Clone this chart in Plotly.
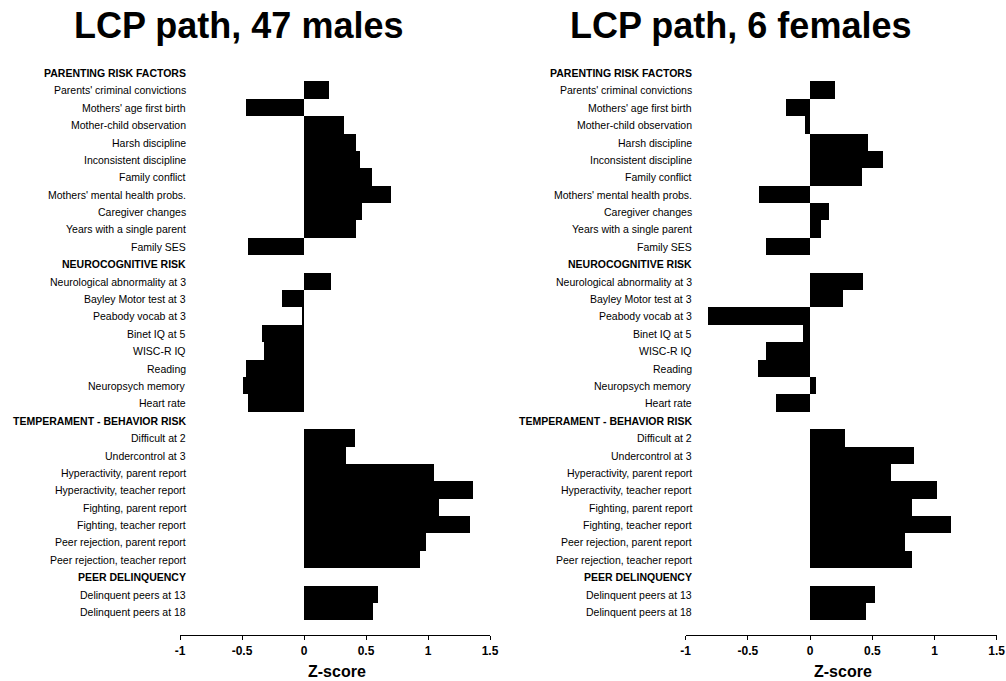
import plotly.graph_objects as go

# ---- data ----
categories = [
    "PARENTING RISK FACTORS",
    "Parents' criminal convictions",
    "Mothers' age first birth",
    "Mother-child observation",
    "Harsh discipline",
    "Inconsistent discipline",
    "Family conflict",
    "Mothers' mental health probs.",
    "Caregiver changes",
    "Years with a single parent",
    "Family SES",
    "NEUROCOGNITIVE RISK",
    "Neurological abnormality at 3",
    "Bayley Motor test at 3",
    "Peabody vocab at 3",
    "Binet IQ at 5",
    "WISC-R IQ",
    "Reading",
    "Neuropsych memory",
    "Heart rate",
    "TEMPERAMENT - BEHAVIOR RISK",
    "Difficult at 2",
    "Undercontrol at 3",
    "Hyperactivity, parent report",
    "Hyperactivity, teacher report",
    "Fighting, parent report",
    "Fighting, teacher report",
    "Peer rejection, parent report",
    "Peer rejection, teacher report",
    "PEER DELINQUENCY",
    "Delinquent peers at 13",
    "Delinquent peers at 18",
]
headers = ["PARENTING RISK FACTORS", "NEUROCOGNITIVE RISK",
           "TEMPERAMENT - BEHAVIOR RISK", "PEER DELINQUENCY"]

males = [None, 0.20, -0.47, 0.32, 0.42, 0.45, 0.55, 0.70, 0.47, 0.42, -0.45,
         None, 0.22, -0.175, -0.02, -0.34, -0.32, -0.47, -0.49, -0.45,
         None, 0.415, 0.335, 1.05, 1.365, 1.09, 1.34, 0.98, 0.935,
         None, 0.60, 0.56]
females = [None, 0.195, -0.20, -0.045, 0.46, 0.58, 0.415, -0.415, 0.147, 0.086, -0.356,
           None, 0.42, 0.26, -0.82, -0.06, -0.356, -0.42, 0.048, -0.28,
           None, 0.28, 0.83, 0.65, 1.02, 0.82, 1.13, 0.76, 0.82,
           None, 0.52, 0.45]

titles = ["LCP path, 47 males", "LCP path, 6 females"]
tick_vals = [-1, -0.5, 0, 0.5, 1, 1.5]
tick_text = ["-1", "-0.5", "0", "0.5", "1", "1.5"]
x_title = "Z-score"

# ---- layout geometry ----
W, H = 1006, 681
FONT = "Arial, Liberation Sans, sans-serif"
rows = list(range(len(categories)))
row_h = (612 - 73) / (len(categories) - 1)
top_px = 73 - row_h / 2
bottom_px = 635
y_bottom_val = (bottom_px - top_px) / row_h - 0.5
ydom = [1 - bottom_px / H, 1 - top_px / H]

panels = [
    dict(vals=males, xdom=[180 / W, 490 / W], label_x=188 / W, title_x=238 / W,
         xa="x", ya="y"),
    dict(vals=females, xdom=[685.7 / W, 996.7 / W], label_x=694 / W, title_x=740 / W,
         xa="x2", ya="y2"),
]

fig = go.Figure()
annotations = []
for i, p in enumerate(panels):
    fig.add_trace(go.Bar(
        x=p["vals"], y=rows, orientation="h", width=1.0,
        marker=dict(color="black", line=dict(width=0)),
        xaxis=p["xa"], yaxis=p["ya"], showlegend=False, hoverinfo="x+y",
    ))
    for r, c in enumerate(categories):
        is_h = c in headers
        annotations.append(dict(
            x=p["label_x"], xref="paper", y=r, yref=p["ya"],
            text=f"<b>{c}</b>" if is_h else c, showarrow=False,
            xanchor="right", yanchor="middle",
            font=dict(family=FONT, size=10.5, color="black"),
        ))
    annotations.append(dict(
        x=p["title_x"], xref="paper", y=1 - 26 / H, yref="paper",
        text=f"<b>{titles[i]}</b>", showarrow=False,
        xanchor="center", yanchor="middle",
        font=dict(family=FONT, size=36, color="black"),
    ))
    annotations.append(dict(
        x=(p["xdom"][0] + p["xdom"][1]) / 2 + 2 / W, xref="paper", y=1 - 671 / H, yref="paper",
        text=f"<b>{x_title}</b>", showarrow=False,
        xanchor="center", yanchor="middle",
        font=dict(family=FONT, size=16, color="black"),
    ))

xaxis_common = dict(
    range=[-1, 1.5], showline=True, linecolor="black", linewidth=1.2,
    ticks="outside", ticklen=4, tickwidth=1.2, tickcolor="black",
    tickvals=tick_vals, ticktext=tick_text, showgrid=False, zeroline=False,
    tickfont=dict(family=FONT, size=12, color="black", weight="bold"),
    fixedrange=True, automargin=False,
)
yaxis_common = dict(
    range=[y_bottom_val, -0.5], domain=ydom, showline=False, showgrid=False,
    zeroline=False, showticklabels=False, ticks="", fixedrange=True,
    automargin=False,
)

fig.update_layout(
    width=W, height=H,
    margin=dict(l=0, r=0, t=0, b=0, autoexpand=False),
    paper_bgcolor="white", plot_bgcolor="white",
    bargap=0,
    xaxis=dict(domain=panels[0]["xdom"], anchor="y", **xaxis_common),
    yaxis=dict(anchor="x", **yaxis_common),
    xaxis2=dict(domain=panels[1]["xdom"], anchor="y2", **xaxis_common),
    yaxis2=dict(anchor="x2", **yaxis_common),
    annotations=annotations,
    font=dict(family=FONT, color="black"),
)

fig.write_html(
    "out.html",
    config={"displayModeBar": False},
    post_script="document.body.style.margin='0px';document.body.style.overflow='hidden';",
)
